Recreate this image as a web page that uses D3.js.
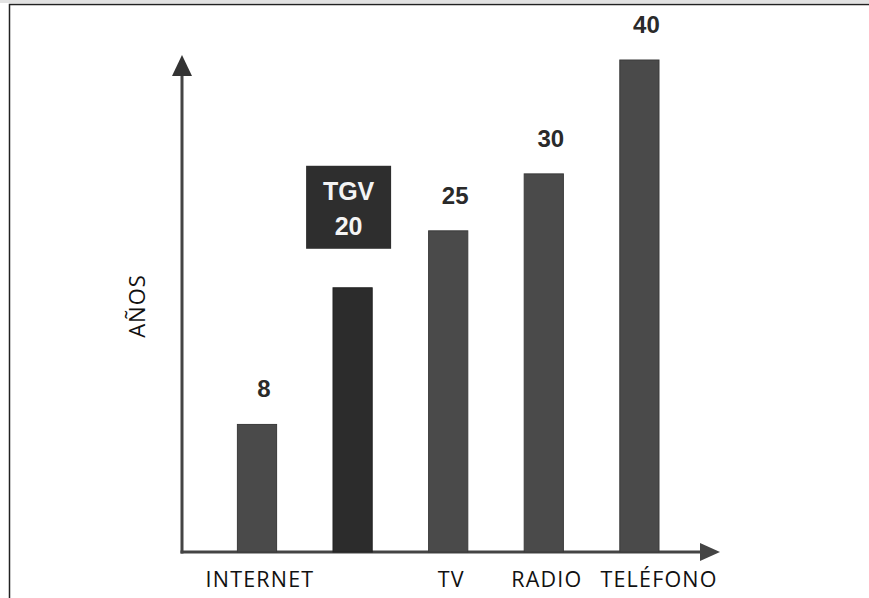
<!DOCTYPE html>
<html><head><meta charset="utf-8">
<script src="https://cdn.jsdelivr.net/npm/d3@7"></script>
<style>body{margin:0;background:#fff}</style>
</head><body>
<script>
const categories = ["INTERNET", "TGV", "TV", "RADIO", "TELÉFONO"];
const values = [8, 20, 25, 30, 40];
const axisLabels = ["INTERNET", "", "TV", "RADIO", "TELÉFONO"];
const yTitle = "AÑOS";
const highlight = "TGV";

const W = 869, H = 598;
const svg = d3.select("body").append("svg").attr("width", W).attr("height", H);

// frame
svg.append("rect").attr("x", 0).attr("y", 0).attr("width", W).attr("height", 3).attr("fill", "#e2e2e2");
svg.append("path").attr("d", `M9.5,${H} V4.5 H${W}`).attr("fill", "none").attr("stroke", "#222").attr("stroke-width", 1.5);

const x = d3.scaleBand().domain(categories).range([209.2, 687.2]).paddingInner(0.59).paddingOuter(0.295);
const y = d3.scaleLinear().domain([-3.2, 40]).range([552, 60]);

const axisX = 182, baseY = y(-3.2);
const axisCol = "#444";

// y axis with arrow
svg.append("line").attr("x1", axisX).attr("x2", axisX).attr("y1", baseY + 1.5).attr("y2", 72)
  .attr("stroke", axisCol).attr("stroke-width", 3);
svg.append("path").attr("d", `M${axisX},55 L${axisX + 10},76 L${axisX - 10},76 Z`).attr("fill", "#333");
// x axis with arrow
svg.append("line").attr("x1", axisX - 1.5).attr("x2", 703).attr("y1", baseY).attr("y2", baseY)
  .attr("stroke", axisCol).attr("stroke-width", 3);
svg.append("path").attr("d", `M720,${baseY} L700,${baseY - 9} L700,${baseY + 9} Z`).attr("fill", "#444");

// bars
svg.selectAll("rect.bar").data(categories).enter().append("rect")
  .attr("class", "bar")
  .attr("x", d => x(d))
  .attr("width", x.bandwidth())
  .attr("y", (d, i) => y(values[i]))
  .attr("height", (d, i) => baseY - y(values[i]))
  .attr("fill", d => d === highlight ? "#2c2c2c" : "#4a4a4a")
  .attr("stroke", d => d === highlight ? "#222" : "#3a3a3a").attr("stroke-width", 1);

// value labels
categories.forEach((c, i) => {
  const cx = x(c) + x.bandwidth() / 2;
  if (c === highlight) {
    const bw = 85, bh = 83;
    const top = y(values[i]) - 39 - bh;
    svg.append("rect").attr("x", cx - 4 - bw / 2).attr("y", top).attr("width", bw).attr("height", bh).attr("fill", "#2e2e2e");
    svg.append("text").attr("x", cx - 4).attr("y", top + 34).attr("text-anchor", "middle")
      .attr("font-family", "Liberation Sans, Arial, sans-serif").attr("font-weight", "bold").attr("font-size", 25)
      .attr("fill", "#f4f4f4").text(c);
    svg.append("text").attr("x", cx - 4).attr("y", top + 69).attr("text-anchor", "middle")
      .attr("font-family", "Liberation Sans, Arial, sans-serif").attr("font-weight", "bold").attr("font-size", 25)
      .attr("fill", "#f4f4f4").text(values[i]);
  } else {
    svg.append("text").attr("x", cx + 7).attr("y", y(values[i]) - 27).attr("text-anchor", "middle")
      .attr("font-family", "Liberation Sans, Arial, sans-serif").attr("font-weight", "bold").attr("font-size", 24)
      .attr("fill", "#2a2a2a").text(values[i]);
  }
});

// category labels (centered under bars, nudged right if they would collide)
const cats = svg.selectAll("text.cat").data(categories).enter().append("text")
  .attr("class", "cat")
  .attr("x", d => x(d) + x.bandwidth() / 2 + 3)
  .attr("y", 587)
  .attr("text-anchor", "middle")
  .attr("font-family", "Open Sans, sans-serif").attr("font-size", 21.5)
  .attr("letter-spacing", 1.2)
  .attr("fill", "#111")
  .text((d, i) => axisLabels[i]);
let prevRight = -Infinity;
cats.each(function () {
  const t = d3.select(this);
  const w = this.getComputedTextLength();
  if (w === 0) return;
  let cx = +t.attr("x");
  if (cx - w / 2 < prevRight + 18) { cx = prevRight + 18 + w / 2; t.attr("x", cx); }
  prevRight = cx + w / 2;
});

// y title
svg.append("text").attr("transform", "translate(145,306) rotate(-90)")
  .attr("text-anchor", "middle").attr("font-family", "Open Sans, sans-serif").attr("font-size", 22)
  .attr("letter-spacing", 1)
  .attr("fill", "#111").text(yTitle);
</script>
</body></html>
